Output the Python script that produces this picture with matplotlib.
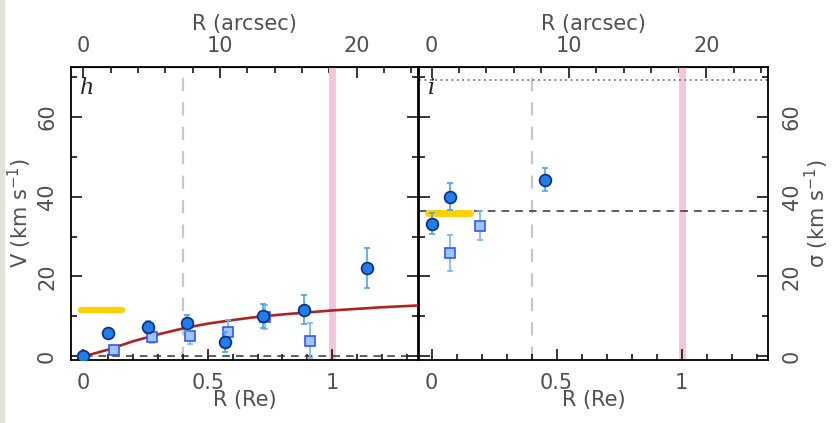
import matplotlib
matplotlib.use("Agg")
import matplotlib.pyplot as plt
from matplotlib.patches import Rectangle
from matplotlib.ticker import MultipleLocator, FixedLocator

# Panel h: rotation velocity
h_circ_r = [0.0, 0.10, 0.26, 0.415, 0.57, 0.72, 0.885, 1.14]
h_circ_v = [0.0, 5.8, 7.3, 8.3, 3.6, 10.0, 11.7, 22.1]
h_circ_err = [0.4, 0.6, 1.5, 2.0, 2.5, 3.0, 3.7, 5.0]
h_sq_r = [0.123, 0.275, 0.43, 0.58, 0.73, 0.91]
h_sq_v = [1.5, 4.9, 5.0, 6.0, 9.8, 3.9]
h_sq_err = [0.6, 1.5, 2.0, 3.0, 3.0, 4.4]
fit_r = [0.0, 0.1, 0.2, 0.3, 0.4, 0.5, 0.6, 0.7, 0.8, 0.9, 1.0, 1.1, 1.2, 1.345]
fit_v = [0.0, 1.7, 3.8, 5.5, 7.0, 8.2, 9.1, 9.9, 10.5, 11.0, 11.5, 11.9, 12.3, 12.75]
h_bar_r = [-0.01, 0.155]
h_bar_v = 11.5

# Panel i: velocity dispersion
i_circ_r = [0.002, 0.073, 0.454]
i_circ_s = [33.2, 40.0, 44.2]
i_circ_err = [2.6, 3.3, 2.9]
i_sq_r = [0.073, 0.193]
i_sq_s = [25.8, 32.7]
i_sq_err = [4.5, 3.6]
i_bar_r = [-0.015, 0.153]
i_bar_s = 35.8
i_sigma_line = 36.4
i_dotted = 69.2

RE_ARCSEC = 18.2
R_INNER = 0.40
top_ticks = [0, 10, 20]

TXT = "#505050"
plt.rcParams["font.family"] = "DejaVu Sans"
plt.rcParams["font.size"] = 15
plt.rcParams["text.color"] = TXT
plt.rcParams["axes.labelcolor"] = TXT
plt.rcParams["xtick.color"] = "black"
plt.rcParams["ytick.color"] = "black"
plt.rcParams["xtick.labelcolor"] = TXT
plt.rcParams["ytick.labelcolor"] = TXT

fig = plt.figure(figsize=(8.36, 4.23), dpi=100)
fig.patches.append(Rectangle((0, 0), 4 / 836, 1, transform=fig.transFigure,
                             color="#e2e2da", zorder=0))

ax_h = fig.add_axes([71 / 836, 1 - 360 / 423, 347 / 836, 293.3 / 423])
ax_i = fig.add_axes([419 / 836, 1 - 360 / 423, 349 / 836, 293.3 / 423])

circ_kw = dict(fmt="o", ms=8.5, mfc="#1f7fe6", mec="#0b2a8c", mew=1.2,
               ecolor="#45a6f2", elinewidth=1.2, capsize=2, zorder=5)
sq_kw = dict(fmt="s", ms=7.5, mfc="#9cc6ff", mec="#3355ff", mew=1.2,
             ecolor="#6fbaf5", elinewidth=1.2, capsize=2, zorder=4)


def style(ax):
    ax.set_xlim(-0.05, 1.345)
    ax.set_ylim(-0.9, 72.5)
    ax.xaxis.set_major_locator(MultipleLocator(0.5))
    ax.xaxis.set_minor_locator(MultipleLocator(0.1))
    ax.yaxis.set_major_locator(MultipleLocator(20))
    ax.yaxis.set_minor_locator(MultipleLocator(10))
    ax.tick_params(which="both", direction="in", bottom=True, left=True,
                   right=True, top=False)
    ax.tick_params(which="major", length=8, width=1.1)
    ax.tick_params(which="minor", length=4.5, width=1.1)
    ax.tick_params(axis="x", pad=9)
    ax.tick_params(axis="y", pad=10)
    ax.set_xticks([0, 0.5, 1])
    ax.set_xticklabels(["0", "0.5", "1"])
    for lbl in ax.get_yticklabels():
        lbl.set_rotation(90)
        lbl.set_va("center")
    for s in ax.spines.values():
        s.set_linewidth(1.3)
    ax.set_xlabel("R (Re)", labelpad=-2)
    ax.axvline(R_INNER, color="#c8c8c8", lw=1.6, dashes=(6, 5), zorder=1)
    ax.axvline(1.0, color="#f9c3dc", lw=5, zorder=1)

    top = ax.secondary_xaxis("top", functions=(lambda r: r * RE_ARCSEC,
                                               lambda a: a / RE_ARCSEC))
    top.xaxis.set_major_locator(FixedLocator(top_ticks))
    top.xaxis.set_minor_locator(MultipleLocator(2))
    top.tick_params(which="both", direction="in", pad=8)
    top.tick_params(which="major", length=8, width=1.1)
    top.tick_params(which="minor", length=4, width=1.1)
    top.set_xlabel("R (arcsec)", labelpad=4)
    return top


style(ax_h)
style(ax_i)

# panel h
ax_h.axhline(0, color="#333333", lw=1.1, dashes=(5, 4), zorder=2)
ax_h.plot(fit_r, fit_v, color="#b0231f", lw=1.9, zorder=3)
ax_h.plot(h_bar_r, [h_bar_v, h_bar_v], color="#ffd000", lw=4.5,
          solid_capstyle="round", zorder=3)
ax_h.errorbar(h_sq_r, h_sq_v, yerr=h_sq_err, **sq_kw)
ax_h.errorbar(h_circ_r, h_circ_v, yerr=h_circ_err, **circ_kw)
ax_h.text(0.025, 0.965, "h", transform=ax_h.transAxes, fontsize=16,
          family="DejaVu Serif", style="italic", color="#222222",
          ha="left", va="top")
ax_h.set_ylabel("V (km s$^{-1}$)", labelpad=2)

# panel i
ax_i.axhline(i_sigma_line, color="#333333", lw=1.1, dashes=(5, 4), zorder=2)
ax_i.axhline(i_dotted, color="#777777", lw=1.3, ls=(0, (1, 2)), zorder=2)
ax_i.plot(i_bar_r, [i_bar_s, i_bar_s], color="#ffd000", lw=5,
          solid_capstyle="round", zorder=3)
ax_i.errorbar(i_sq_r, i_sq_s, yerr=i_sq_err, **sq_kw)
ax_i.errorbar(i_circ_r, i_circ_s, yerr=i_circ_err, **circ_kw)
ax_i.text(0.025, 0.965, "i", transform=ax_i.transAxes, fontsize=16,
          family="DejaVu Serif", style="italic", color="#222222",
          ha="left", va="top")
ax_i.tick_params(axis="y", labelleft=False, labelright=True)
for lbl in ax_i.get_yticklabels():
    lbl.set_rotation(90)
    lbl.set_va("center")
ax_i.yaxis.set_label_position("right")
ax_i.set_ylabel("σ (km s$^{-1}$)", labelpad=1, rotation=90)

fig.savefig("out.png", dpi=100)
